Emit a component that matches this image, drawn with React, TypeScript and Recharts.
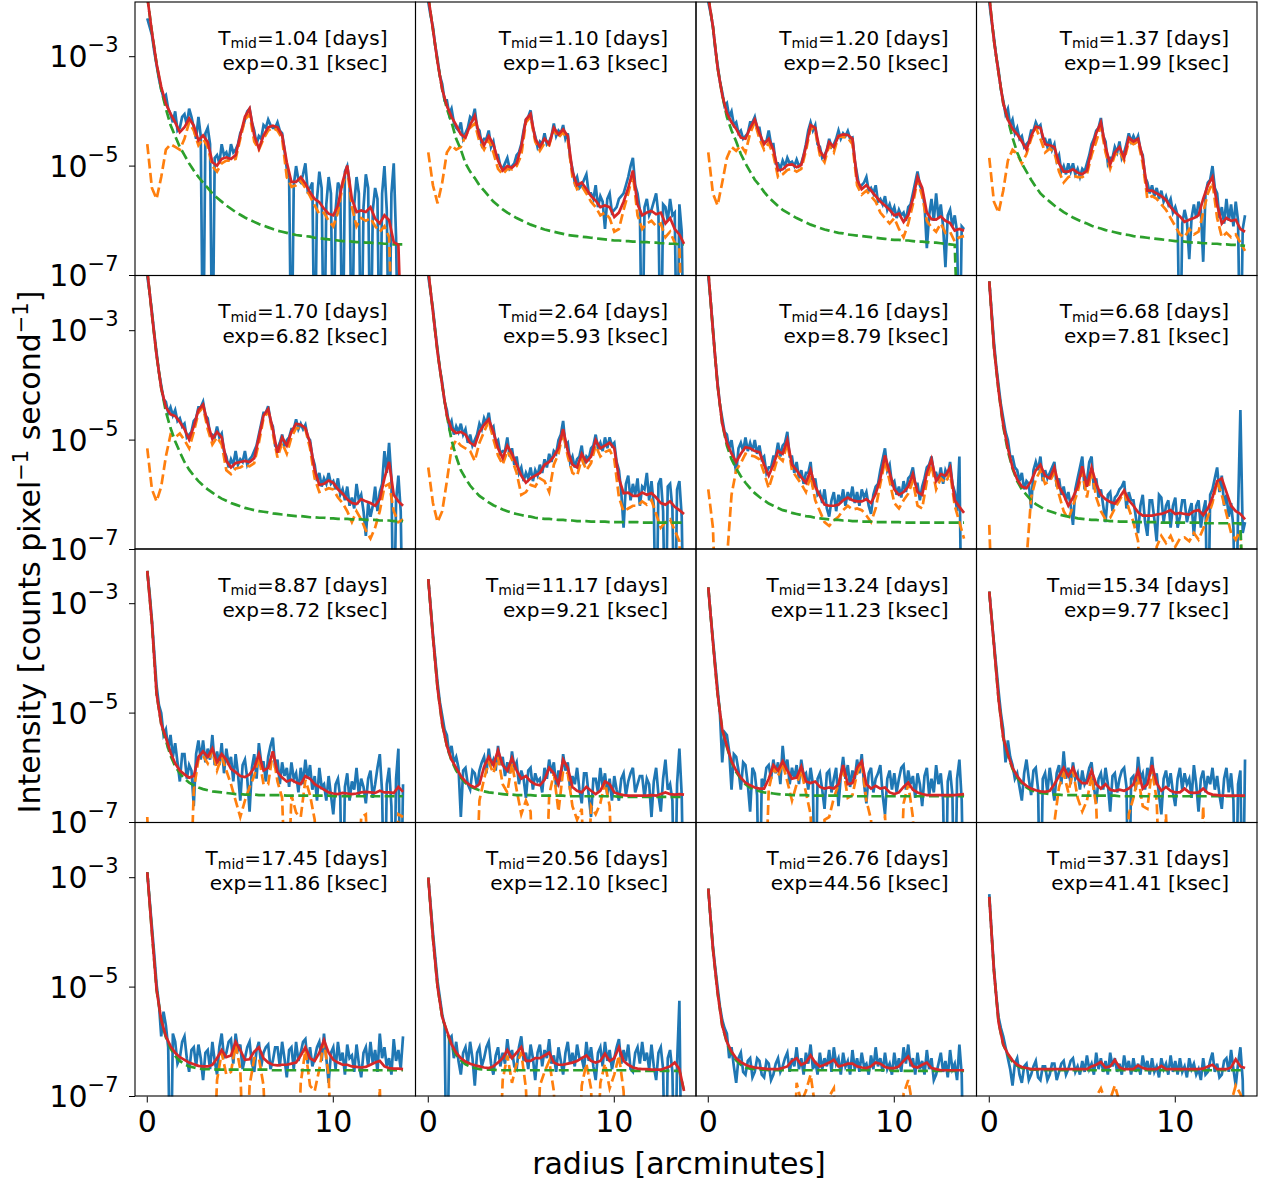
import React from 'react';
import { LineChart, Line, XAxis, YAxis } from 'recharts';

const FONT = '"DejaVu Sans", Verdana, sans-serif';

// model grid (orange / green / red)
const radius = [0, 0.25, 0.5, 0.75, 1, 1.25, 1.5, 1.75, 2, 2.25, 2.5, 2.75, 3, 3.25, 3.5, 3.75, 4, 4.25, 4.5, 4.75, 5, 5.25, 5.5, 5.75, 6, 6.25, 6.5, 6.75, 7, 7.25, 7.5, 7.75, 8, 8.25, 8.5, 8.75, 9, 9.25, 9.5, 9.75, 10, 10.25, 10.5, 10.75, 11, 11.25, 11.5, 11.75, 12, 12.25, 12.5, 12.75, 13, 13.25, 13.5, 13.75];
// data grid (blue)
const radiusFine = [
  0, 0.125, 0.25, 0.375, 0.5, 0.625, 0.75, 0.875, 1, 1.125, 1.25, 1.375, 1.5, 1.625, 1.75, 1.875,
  2, 2.125, 2.25, 2.375, 2.5, 2.625, 2.75, 2.875, 3, 3.125, 3.25, 3.375, 3.5, 3.625, 3.75, 3.875,
  4, 4.125, 4.25, 4.375, 4.5, 4.625, 4.75, 4.875, 5, 5.125, 5.25, 5.375, 5.5, 5.625, 5.75, 5.875,
  6, 6.125, 6.25, 6.375, 6.5, 6.625, 6.75, 6.875, 7, 7.125, 7.25, 7.375, 7.5, 7.625, 7.75, 7.875,
  8, 8.125, 8.25, 8.375, 8.5, 8.625, 8.75, 8.875, 9, 9.125, 9.25, 9.375, 9.5, 9.625, 9.75, 9.875,
  10, 10.125, 10.25, 10.375, 10.5, 10.625, 10.75, 10.875, 11, 11.125, 11.25, 11.375, 11.5, 11.625, 11.75, 11.875,
  12, 12.125, 12.25, 12.375, 12.5, 12.625, 12.75, 12.875, 13, 13.125, 13.25, 13.375, 13.5, 13.625, 13.75];

const xTicks = [0, 10];
const yTicks = [1e-7, 1e-5, 1e-3];

const tMid = ['1.04', '1.10', '1.20', '1.37', '1.70', '2.64', '4.16', '6.68', '8.87', '11.17', '13.24', '15.34', '17.45', '20.56', '26.76', '37.31'];
const expKs = ['0.31', '1.63', '2.50', '1.99', '6.82', '5.93', '8.79', '7.81', '8.72', '9.21', '11.23', '9.77', '11.86', '12.10', '44.56', '41.41'];

// all series values are log10(intensity); -9 = empty bin (off the axis)
// ---------- panel 1 ----------
const blue1 = [
  -2.3, -2.45, -2.6, -2.9, -3.15, -3.4, -3.6, -3.75, -3.7, -3.95, -4.05, -4.2, -4.0, -4.35, -4.3, -4.1,
  -4.05, -4.25, -3.95, -4.1, -4.3, -4.5, -4.1, -4.45, -9, -4.4, -4.3, -4.6, -9, -4.85, -4.8, -4.95,
  -4.6, -4.8, -4.75, -4.9, -4.6, -4.75, -4.7, -4.6, -4.4, -4.3, -4.15, -4.0, -3.95, -4.2, -4.35, -4.6,
  -4.45, -4.5, -4.25, -4.3, -4.15, -4.25, -4.3, -4.3, -4.2, -4.35, -4.4, -4.7, -5.05, -5.2, -9, -5.35,
  -5.0, -5.25, -5.3, -5.15, -4.95, -5.45, -5.4, -5.3, -9, -5.6, -5.1, -5.4, -9, -5.7, -5.2, -5.5,
  -9, -5.8, -5.3, -5.4, -9, -5.1, -5.0, -5.3, -9, -5.7, -5.2, -5.5, -9, -5.75, -5.15, -5.4,
  -9, -5.8, -5.4, -5.6, -9, -5.5, -5.0, -5.8, -9, -5.5, -4.95, -6.3, -9, -9, -9];
const orange1 = [
  -4.6, -5.4, -5.6, -5.2, -4.7, -4.6, -4.65, -4.7,
  -4.5, -4.2, -4.35, -4.62, -4.5, -4.65, -5.0, -5.1,
  -4.95, -4.9, -4.9, -4.87, -4.5, -4.15, -4.05, -4.55,
  -4.7, -4.5, -4.35, -4.3, -4.35, -4.5, -5.2, -5.38,
  -5.35, -5.27, -5.4, -5.55, -5.72, -5.88, -5.85, -6.0,
  -6.1, -5.85, -5.35, -5.05, -5.75, -6.1, -5.95, -6.0,
  -5.95, -6.1, -6.2, -6.1, -6.3, -9, -9, -9];
const green1 = [
  -1.9, -2.55, -3.13, -3.6, -3.95, -4.25, -4.45, -4.65,
  -4.8, -4.95, -5.08, -5.2, -5.3, -5.4, -5.5, -5.58,
  -5.65, -5.72, -5.78, -5.84, -5.89, -5.94, -5.98, -6.02,
  -6.06, -6.09, -6.12, -6.15, -6.18, -6.2, -6.22, -6.24,
  -6.26, -6.27, -6.28, -6.29, -6.31, -6.32, -6.33, -6.34,
  -6.35, -6.36, -6.37, -6.37, -6.38, -6.39, -6.39, -6.4,
  -6.4, -6.41, -6.41, -6.42, -6.42, -6.43, -6.43, -6.43];
const red1 = [
  -1.9, -2.55, -3.13, -3.55, -3.86, -4.04, -4.2, -4.38,
  -4.29, -4.13, -4.26, -4.53, -4.44, -4.56, -4.93, -4.99,
  -4.87, -4.84, -4.87, -4.8, -4.44, -4.1, -3.95, -4.44,
  -4.68, -4.44, -4.29, -4.26, -4.29, -4.44, -4.93, -5.29,
  -5.29, -5.2, -5.32, -5.48, -5.6, -5.66, -5.78, -5.87,
  -5.9, -5.72, -5.29, -4.99, -5.6, -5.84, -5.81, -5.84,
  -5.75, -5.96, -6.05, -5.9, -5.99, -6.39, -6.44, -9];

// ---------- panel 2 ----------
const blue2 = [
  -2.0, -2.25, -2.45, -2.8, -3.05, -3.35, -3.5, -3.8, -3.8, -4.05, -3.95, -4.2, -4.3, -4.35, -4.2, -4.5,
  -4.4, -4.3, -4.1, -4.15, -3.95, -4.3, -4.35, -4.6, -4.5, -4.5, -4.35, -4.65, -4.55, -4.8, -4.8, -5.0,
  -5.05, -4.95, -4.85, -5.05, -5.0, -4.95, -4.8, -4.75, -4.6, -4.35, -4.15, -4.1, -3.98, -4.3, -4.45, -4.65,
  -4.55, -4.6, -4.4, -4.6, -4.55, -4.45, -4.22, -4.45, -4.35, -4.4, -4.25, -4.5, -4.4, -4.85, -5.05, -5.3,
  -5.2, -5.4, -5.35, -5.25, -5.15, -5.5, -5.5, -5.6, -5.35, -5.75, -5.55, -5.65, -6.15, -5.6, -5.5, -5.85,
  -5.8, -5.75, -5.6, -5.55, -5.5, -5.35, -5.2, -5.0, -4.85, -5.35, -5.5, -5.8, -9, -5.75, -5.6, -5.9,
  -5.8, -5.65, -5.5, -5.9, -9, -5.7, -5.75, -6.0, -5.6, -5.9, -5.85, -9, -5.7, -6.2, -9];
const orange2 = [
  -4.75, -5.35, -5.68, -5.3, -4.75, -4.62, -4.7, -4.65,
  -4.45, -4.3, -4.22, -4.55, -4.7, -4.52, -4.75, -5.05,
  -5.15, -5.05, -5.06, -5.0, -4.8, -4.2, -4.1, -4.55,
  -4.72, -4.58, -4.62, -4.33, -4.48, -4.38, -4.52, -5.2,
  -5.42, -5.36, -5.5, -5.65, -5.75, -5.9, -5.85, -5.95,
  -6.2, -6.15, -5.8, -5.5, -5.15, -5.9, -6.15, -6.05,
  -6.0, -6.1, -6.05, -6.3, -6.2, -6.4, -6.5, -9];
const green2 = [
  -1.9, -2.5, -3.1, -3.6, -3.95, -4.2, -4.5, -4.7,
  -4.95, -5.1, -5.22, -5.35, -5.45, -5.55, -5.65, -5.72,
  -5.79, -5.85, -5.9, -5.95, -5.99, -6.03, -6.07, -6.1,
  -6.13, -6.16, -6.18, -6.2, -6.22, -6.24, -6.26, -6.27,
  -6.28, -6.29, -6.3, -6.31, -6.32, -6.33, -6.34, -6.35,
  -6.36, -6.36, -6.37, -6.37, -6.38, -6.38, -6.39, -6.39,
  -6.4, -6.4, -6.41, -6.41, -6.42, -6.42, -6.43, -6.43];
const red2 = [
  -1.9, -2.5, -3.1, -3.6, -3.9, -4.1, -4.25, -4.42,
  -4.48, -4.25, -4.08, -4.45, -4.62, -4.45, -4.6, -4.9,
  -5.08, -5.0, -5.03, -4.95, -4.65, -4.15, -4.05, -4.5,
  -4.65, -4.5, -4.6, -4.3, -4.42, -4.33, -4.45, -5.1,
  -5.35, -5.3, -5.42, -5.55, -5.63, -5.75, -5.72, -5.75,
  -5.93, -5.85, -5.65, -5.4, -5.08, -5.7, -5.9, -5.85,
  -5.82, -5.88, -5.85, -6.05, -5.95, -6.15, -6.25, -6.42];

// ---------- panel 3 ----------
const blue3 = [
  -2.0, -2.2, -2.45, -2.85, -3.15, -3.45, -3.65, -3.9, -3.85, -4.1, -4.0, -4.25, -4.2, -4.4, -4.35, -4.5,
  -4.45, -4.4, -4.2, -4.2, -4.1, -4.3, -4.3, -4.55, -4.55, -4.55, -4.35, -4.6, -4.6, -4.95, -4.95, -5.05,
  -4.9, -5.0, -4.85, -4.95, -4.92, -5.0, -4.88, -5.0, -4.95, -4.8, -4.6, -4.35, -4.2, -4.35, -4.25, -4.6,
  -4.65, -4.85, -4.8, -4.7, -4.5, -4.65, -4.6, -4.5, -4.35, -4.5, -4.4, -4.45, -4.36, -4.5, -4.48, -4.9,
  -5.15, -5.4, -5.35, -5.3, -5.2, -5.45, -5.4, -5.5, -5.35, -5.65, -5.6, -5.7, -5.55, -5.8, -5.7, -5.85,
  -5.75, -5.95, -5.8, -5.9, -5.85, -6.0, -5.75, -5.7, -5.5, -5.3, -5.1, -5.35, -5.45, -5.7, -6.5, -5.9,
  -5.6, -6.0, -5.5, -5.95, -5.7, -6.1, -6.85, -5.9, -5.8, -6.1, -5.9, -6.2, -9, -6.1, -6.15];
const orange3 = [
  -4.75, -5.5, -5.72, -5.3, -4.85, -4.65, -4.72, -4.62,
  -4.75, -4.4, -4.2, -4.5, -4.7, -4.58, -4.8, -5.2,
  -5.15, -5.07, -5.05, -5.1, -5.05, -4.72, -4.3, -4.35,
  -4.8, -4.93, -4.62, -4.75, -4.45, -4.47, -4.48, -4.6,
  -5.35, -5.52, -5.45, -5.55, -5.65, -5.85, -5.95, -6.05,
  -5.95, -6.15, -6.3, -6.05, -5.7, -5.25, -5.55, -6.0,
  -6.12, -6.2, -6.05, -6.22, -6.2, -6.38, -6.3, -6.28];
const green3 = [
  -1.9, -2.45, -3.2, -3.7, -4.1, -4.35, -4.55, -4.78,
  -4.95, -5.1, -5.25, -5.35, -5.47, -5.57, -5.65, -5.73,
  -5.8, -5.85, -5.9, -5.95, -5.99, -6.03, -6.07, -6.1,
  -6.13, -6.16, -6.18, -6.2, -6.22, -6.23, -6.25, -6.26,
  -6.27, -6.28, -6.29, -6.3, -6.31, -6.32, -6.33, -6.34,
  -6.35, -6.35, -6.36, -6.36, -6.37, -6.38, -6.38, -6.39,
  -6.4, -6.4, -6.41, -6.42, -6.43, -6.44, -9, -9];
const red3 = [
  -1.9, -2.45, -3.2, -3.7, -4.03, -4.2, -4.32, -4.48,
  -4.5, -4.3, -4.15, -4.4, -4.6, -4.5, -4.7, -5.08,
  -5.06, -4.98, -4.97, -5.02, -4.98, -4.65, -4.25, -4.3,
  -4.72, -4.85, -4.56, -4.65, -4.45, -4.42, -4.43, -4.5,
  -5.25, -5.42, -5.35, -5.45, -5.55, -5.65, -5.72, -5.8,
  -5.9, -5.87, -6.02, -5.9, -5.6, -5.2, -5.4, -5.85,
  -5.97, -5.98, -5.92, -6.0, -6.04, -6.18, -6.15, -6.18];

// ---------- panel 4 ----------
const blue4 = [
  -2.0, -2.35, -2.65, -3.0, -3.25, -3.6, -3.8, -4.05, -3.95, -4.25, -4.15, -4.4, -4.3, -4.5, -4.45, -4.65,
  -4.6, -4.55, -4.35, -4.35, -4.2, -4.3, -4.25, -4.5, -4.5, -4.65, -4.5, -4.7, -4.6, -4.9, -4.8, -5.1,
  -5.0, -5.15, -4.95, -5.1, -4.95, -5.15, -5.05, -5.2, -5.05, -5.1, -4.95, -4.8, -4.6, -4.5, -4.35, -4.3,
  -4.12, -4.45, -4.55, -4.95, -4.85, -4.85, -4.65, -4.75, -4.55, -4.85, -4.75, -4.6, -4.4, -4.55, -4.45, -4.55,
  -4.45, -4.7, -4.8, -5.2, -5.3, -5.5, -5.35, -5.55, -5.4, -5.6, -5.45, -5.65, -5.55, -5.7, -5.6, -5.85,
  -5.75, -5.9, -9, -6.05, -5.8, -6.0, -6.7, -5.95, -5.7, -5.95, -5.65, -5.8, -6.75, -5.5, -5.3, -5.25,
  -5.0, -5.4, -5.5, -5.95, -5.75, -6.05, -5.6, -6.0, -5.7, -6.1, -5.65, -6.0, -9, -6.15, -5.9];
const orange4 = [
  -4.85, -5.65, -5.85, -5.45, -4.9, -4.7, -4.78, -4.95,
  -4.78, -4.5, -4.3, -4.5, -4.75, -4.68, -4.75, -5.1,
  -5.3, -5.2, -5.17, -5.2, -5.2, -5.15, -4.8, -4.55,
  -4.27, -4.75, -5.05, -4.8, -4.73, -4.9, -4.55, -4.6,
  -4.55, -4.95, -5.6, -5.55, -5.6, -5.7, -5.8, -5.95,
  -6.1, -6.25, -6.3, -6.15, -6.25, -6.2, -5.85, -5.5,
  -5.3, -5.95, -6.3, -6.22, -6.3, -6.25, -6.4, -6.55];
const green4 = [
  -1.9, -2.7, -3.3, -3.85, -4.15, -4.48, -4.75, -4.95,
  -5.1, -5.25, -5.38, -5.5, -5.58, -5.65, -5.72, -5.78,
  -5.84, -5.89, -5.94, -5.98, -6.02, -6.05, -6.09, -6.12,
  -6.14, -6.17, -6.19, -6.21, -6.23, -6.25, -6.26, -6.28,
  -6.29, -6.3, -6.31, -6.32, -6.33, -6.34, -6.35, -6.36,
  -6.37, -6.37, -6.38, -6.39, -6.4, -6.4, -6.41, -6.41,
  -6.42, -6.42, -6.43, -6.43, -6.44, -6.44, -6.45, -6.46];
const red4 = [
  -1.9, -2.7, -3.3, -3.85, -4.15, -4.32, -4.42, -4.55,
  -4.7, -4.45, -4.28, -4.3, -4.6, -4.62, -4.65, -4.95,
  -5.1, -5.1, -5.06, -5.12, -5.15, -5.08, -4.7, -4.4,
  -4.2, -4.65, -4.97, -4.75, -4.65, -4.85, -4.48, -4.55,
  -4.5, -4.85, -5.45, -5.45, -5.5, -5.55, -5.62, -5.75,
  -5.85, -5.92, -6.02, -5.98, -5.95, -5.9, -5.6, -5.35,
  -5.2, -5.7, -6.05, -5.95, -6.0, -5.98, -6.15, -6.2];

// ---------- panel 5 ----------
const blue5 = [
  -2.0, -2.3, -2.65, -3.05, -3.4, -3.75, -4.0, -4.25, -4.3, -4.5, -4.4, -4.55, -4.45, -4.65, -4.6, -4.75,
  -4.7, -4.95, -4.9, -4.85, -4.65, -4.6, -4.4, -4.4, -4.3, -4.55, -4.6, -4.9, -4.9, -4.95, -4.75, -4.95,
  -4.88, -5.2, -5.3, -5.5, -5.35, -5.45, -5.2, -5.45, -5.35, -5.4, -5.2, -5.45, -5.35, -5.3, -5.2, -5.1,
  -4.9, -4.7, -4.5, -4.5, -4.38, -4.65, -4.75, -5.1, -5.15, -5.05, -4.9, -5.1, -5.0, -4.95, -4.8, -4.8,
  -4.62, -4.8, -4.7, -4.8, -4.72, -4.95, -5.0, -5.3, -5.45, -5.75, -5.6, -5.85, -5.7, -5.8, -5.6, -5.8,
  -5.75, -5.9, -5.7, -6.0, -5.9, -6.1, -5.85, -6.2, -6.05, -6.25, -5.8, -6.1, -6.0, -6.3, -6.75, -6.15,
  -6.4, -6.2, -5.85, -6.3, -5.95, -5.8, -5.2, -5.6, -5.05, -5.7, -9, -6.1, -5.65, -6.3, -9];
const orange5 = [
  -5.15, -5.9, -6.12, -5.85, -5.3, -4.9, -4.95, -4.88,
  -5.0, -5.15, -4.85, -4.5, -4.4, -4.8, -5.08, -4.95,
  -5.08, -5.55, -5.62, -5.52, -5.5, -5.45, -5.48, -5.42,
  -5.05, -4.6, -4.47, -4.88, -5.32, -5.05, -5.25, -4.95,
  -4.78, -4.78, -4.8, -5.15, -5.7, -5.95, -5.92, -5.88,
  -5.9, -6.05, -6.15, -6.3, -6.5, -6.3, -6.45, -6.65,
  -6.8, -6.6, -6.3, -5.85, -5.8, -6.3, -6.5, -6.45];
const green5 = [
  -1.9, -2.7, -3.45, -4.05, -4.48, -4.78, -5.02, -5.22,
  -5.4, -5.54, -5.65, -5.75, -5.83, -5.9, -5.96, -6.02,
  -6.07, -6.11, -6.15, -6.18, -6.21, -6.24, -6.26, -6.28,
  -6.3, -6.31, -6.32, -6.34, -6.35, -6.36, -6.37, -6.38,
  -6.39, -6.39, -6.4, -6.41, -6.41, -6.42, -6.42, -6.43,
  -6.43, -6.44, -6.44, -6.44, -6.45, -6.45, -6.45, -6.46,
  -6.46, -6.46, -6.47, -6.47, -6.47, -6.48, -6.48, -6.48];
const red5 = [
  -1.9, -2.7, -3.45, -4.05, -4.4, -4.53, -4.56, -4.67,
  -4.8, -4.99, -4.75, -4.45, -4.35, -4.7, -4.98, -4.85,
  -4.95, -5.38, -5.5, -5.42, -5.4, -5.38, -5.4, -5.33,
  -4.95, -4.55, -4.43, -4.8, -5.23, -4.95, -5.1, -4.85,
  -4.7, -4.72, -4.78, -5.05, -5.55, -5.82, -5.8, -5.74,
  -5.78, -5.9, -5.98, -6.08, -6.15, -6.17, -6.08, -6.12,
  -6.15, -6.2, -6.08, -5.7, -5.4, -6.0, -6.12, -6.2];

// ---------- panel 6 ----------
const blue6 = [
  -2.0, -2.3, -2.6, -3.0, -3.35, -3.7, -3.95, -4.3, -4.45, -4.75, -4.65, -4.9, -4.75, -4.85, -4.7, -4.9,
  -4.8, -5.05, -4.9, -5.1, -5.0, -4.9, -4.7, -4.8, -4.6, -4.7, -4.5, -4.8, -4.75, -5.05, -5.0, -5.25,
  -5.2, -5.2, -4.95, -5.3, -5.15, -5.45, -5.3, -5.6, -5.5, -5.75, -5.6, -5.7, -5.5, -5.75, -5.55, -5.65,
  -5.45, -5.6, -5.35, -5.5, -5.25, -5.4, -5.2, -5.25, -5.0, -4.9, -4.65, -5.1, -5.05, -5.4, -5.3, -5.5,
  -5.35, -5.3, -5.1, -5.45, -5.3, -5.35, -5.15, -5.1, -4.9, -5.15, -5.05, -5.2, -4.95, -5.15, -4.95, -5.1,
  -5.05, -5.4, -5.55, -5.95, -6.6, -5.8, -5.65, -6.1, -5.8, -6.0, -5.7, -6.2, -5.85, -5.9, -5.6, -6.1,
  -5.75, -6.2, -9, -5.8, -5.7, -6.3, -9, -5.85, -5.8, -6.25, -9, -5.9, -5.75, -6.4, -9];
const orange6 = [
  -5.5, -6.15, -6.5, -6.3, -5.75, -5.15, -5.0, -5.1,
  -5.15, -5.2, -5.38, -5.05, -4.85, -4.65, -4.98, -5.28,
  -5.45, -5.2, -5.35, -5.6, -6.0, -5.95, -5.82, -5.85,
  -5.7, -5.75, -5.95, -5.45, -5.25, -4.85, -5.3, -5.6,
  -5.65, -5.35, -5.55, -5.42, -5.1, -5.3, -5.22, -5.18,
  -5.35, -6.05, -6.3, -6.25, -6.2, -6.2, -6.12, -6.18,
  -6.1, -6.35, -6.6, -6.5, -6.45, -6.65, -6.85, -9];
const green6 = [
  -1.9, -2.65, -3.4, -4.0, -4.55, -5.0, -5.3, -5.55,
  -5.7, -5.83, -5.93, -6.02, -6.08, -6.14, -6.19, -6.23,
  -6.27, -6.3, -6.33, -6.35, -6.37, -6.39, -6.4, -6.42,
  -6.43, -6.44, -6.44, -6.45, -6.46, -6.46, -6.47, -6.47,
  -6.48, -6.48, -6.48, -6.49, -6.49, -6.49, -6.49, -6.5,
  -6.5, -6.5, -6.5, -6.5, -6.5, -6.5, -6.51, -6.51,
  -6.51, -6.51, -6.51, -6.51, -6.51, -6.51, -6.51, -6.51];
const red6 = [
  -1.9, -2.65, -3.4, -4.0, -4.55, -4.8, -4.87, -4.85,
  -4.9, -5.05, -5.1, -4.85, -4.72, -4.62, -4.85, -5.15,
  -5.33, -5.1, -5.25, -5.45, -5.65, -5.78, -5.7, -5.65,
  -5.6, -5.45, -5.4, -5.3, -5.15, -4.8, -5.2, -5.45,
  -5.5, -5.25, -5.4, -5.3, -5.0, -5.15, -5.1, -5.05,
  -5.15, -5.7, -5.97, -5.96, -6.02, -6.02, -5.96, -6.0,
  -5.97, -6.05, -6.15, -6.18, -6.12, -6.22, -6.28, -6.35];

// ---------- panel 7 ----------
const blue7 = [
  -2.0, -2.45, -2.95, -3.5, -3.95, -4.35, -4.6, -4.85, -4.9, -5.15, -5.0, -5.3, -5.6, -5.15, -5.05, -5.2,
  -4.95, -5.2, -5.05, -5.2, -5.0, -5.25, -5.1, -5.35, -5.3, -5.6, -5.5, -5.5, -5.3, -5.3, -5.05, -5.3,
  -5.1, -5.05, -4.85, -5.3, -5.3, -5.6, -5.4, -5.7, -5.55, -5.8, -5.6, -5.6, -5.4, -5.85, -5.7, -6.0,
  -5.95, -6.15, -5.9, -6.25, -6.4, -6.1, -5.95, -6.3, -6.0, -6.15, -5.9, -6.2, -5.95, -6.1, -5.85, -6.15,
  -5.95, -6.2, -5.9, -6.05, -5.95, -6.2, -6.35, -6.0, -5.85, -5.8, -5.55, -5.35, -5.15, -5.55, -5.45, -5.8,
  -5.75, -6.0, -5.85, -6.05, -5.75, -5.95, -5.7, -5.65, -5.5, -5.8, -5.8, -6.1, -5.85, -5.7, -5.5, -5.45,
  -5.3, -5.6, -5.6, -5.75, -5.5, -5.8, -5.55, -5.65, -5.4, -5.8, -5.95, -6.3, -5.3, -9, -9];
const orange7 = [
  -5.9, -6.6, -9, -9, -7.2, -6.0, -5.55, -5.42,
  -5.25, -5.28, -5.3, -5.35, -5.6, -5.88, -5.6, -5.3,
  -5.38, -5.05, -5.55, -5.68, -5.8, -5.95, -5.65, -6.1,
  -6.3, -6.5, -6.57, -6.47, -6.4, -6.28, -6.2, -6.27,
  -6.25, -6.28, -6.38, -6.5, -6.25, -5.8, -5.38, -5.75,
  -6.15, -6.25, -6.1, -5.98, -5.75, -6.2, -6.25, -5.75,
  -5.45, -5.9, -5.7, -5.78, -5.6, -6.2, -6.5, -6.8];
const green7 = [
  -1.9, -3.0, -4.0, -4.7, -5.1, -5.35, -5.52, -5.66,
  -5.78, -5.88, -5.97, -6.04, -6.1, -6.16, -6.2, -6.24,
  -6.28, -6.3, -6.33, -6.35, -6.37, -6.39, -6.4, -6.42,
  -6.43, -6.44, -6.45, -6.46, -6.46, -6.47, -6.47, -6.48,
  -6.48, -6.49, -6.49, -6.49, -6.5, -6.5, -6.5, -6.5,
  -6.5, -6.5, -6.51, -6.51, -6.51, -6.51, -6.51, -6.51,
  -6.51, -6.51, -6.51, -6.51, -6.51, -6.51, -6.51, -6.51];
const red7 = [
  -1.9, -3.0, -4.0, -4.7, -5.05, -5.25, -5.4, -5.25,
  -5.13, -5.15, -5.2, -5.22, -5.45, -5.65, -5.45, -5.2,
  -5.25, -5.0, -5.45, -5.55, -5.68, -5.78, -5.55, -5.85,
  -6.02, -6.18, -6.2, -6.2, -6.18, -6.1, -6.05, -6.1,
  -6.12, -6.12, -6.08, -6.15, -5.98, -5.7, -5.28, -5.6,
  -5.9, -6.0, -5.95, -5.85, -5.62, -5.95, -6.0, -5.6,
  -5.35, -5.75, -5.62, -5.65, -5.5, -6.1, -6.22, -6.33];

// ---------- panel 8 ----------
const blue8 = [
  -2.1, -2.65, -3.2, -3.65, -4.0, -4.35, -4.6, -4.85, -5.0, -5.3, -5.3, -5.5, -5.55, -5.75, -5.6, -5.9,
  -5.75, -5.8, -6.25, -5.55, -5.4, -5.55, -5.3, -5.75, -5.55, -5.7, -5.6, -5.5, -5.4, -5.85, -5.7, -6.0,
  -5.85, -6.1, -5.95, -6.2, -6.55, -5.9, -5.7, -5.5, -5.3, -5.9, -5.75, -5.4, -5.3, -5.9, -5.7, -6.05,
  -5.9, -6.2, -6.5, -6.0, -5.95, -6.3, -6.05, -6.0, -5.9, -5.85, -5.75, -6.25, -5.95, -6.1, -6.1, -6.4,
  -6.7, -6.2, -6.0, -6.5, -6.75, -6.1, -6.1, -6.45, -6.85, -6.0, -6.05, -6.5, -6.2, -6.1, -6.6, -6.2,
  -6.05, -6.6, -6.4, -6.1, -6.1, -6.5, -6.3, -6.15, -6.75, -6.2, -6.1, -6.6, -6.3, -6.1, -9, -6.0,
  -5.9, -5.7, -5.5, -5.95, -5.65, -6.2, -6.0, -6.4, -6.15, -6.6, -9, -6.3, -4.45, -6.7, -6.5];
const orange8 = [
  -6.55, -9, -9, -9, -9, -9, -9, -9,
  -7.2, -6.05, -5.72, -5.55, -5.8, -5.75, -5.6, -6.0,
  -6.3, -6.45, -6.2, -5.95, -5.58, -6.05, -5.55, -6.05,
  -6.3, -6.45, -6.42, -6.25, -6.1, -5.95, -6.25, -6.5,
  -6.85, -9, -9, -9, -6.95, -6.75, -6.88, -6.75,
  -6.95, -6.8, -6.78, -6.85, -6.7, -6.82, -6.62, -6.4,
  -6.15, -5.75, -6.0, -6.35, -6.7, -6.82, -6.65, -9];
const green8 = [
  -2.1, -3.3, -4.1, -4.75, -5.2, -5.52, -5.75, -5.9,
  -6.0, -6.1, -6.17, -6.22, -6.27, -6.3, -6.33, -6.36,
  -6.38, -6.4, -6.41, -6.43, -6.44, -6.45, -6.46, -6.46,
  -6.47, -6.47, -6.48, -6.48, -6.49, -6.49, -6.49, -6.5,
  -6.5, -6.5, -6.5, -6.5, -6.5, -6.51, -6.51, -6.51,
  -6.51, -6.51, -6.51, -6.51, -6.51, -6.51, -6.52, -6.52,
  -6.52, -6.52, -6.52, -6.52, -6.52, -6.52, -6.52, -9];
const red8 = [
  -2.1, -3.3, -4.1, -4.72, -5.15, -5.5, -5.72, -5.85,
  -5.88, -5.75, -5.55, -5.45, -5.65, -5.7, -5.5, -5.85,
  -6.0, -6.2, -6.05, -5.85, -5.48, -5.85, -5.5, -5.8,
  -6.0, -6.08, -6.13, -6.16, -6.05, -5.92, -6.1, -6.2,
  -6.32, -6.38, -6.38, -6.38, -6.36, -6.35, -6.32, -6.28,
  -6.35, -6.33, -6.35, -6.36, -6.3, -6.28, -6.37, -6.25,
  -6.05, -5.75, -5.7, -5.95, -6.2, -6.3, -6.35, -6.45];

// ---------- panel 9 ----------
const blue9 = [
  -2.4, -2.8, -3.3, -3.9, -4.5, -4.85, -5.0, -5.4, -5.3, -5.65, -5.4, -5.8, -5.55, -5.9, -6.25, -5.75,
  -5.75, -6.2, -5.95, -6.05, -6.7, -5.75, -5.5, -5.85, -5.5, -5.9, -5.65, -5.85, -5.4, -5.95, -5.7, -5.95,
  -5.55, -6.1, -5.65, -5.95, -5.8, -6.25, -5.75, -6.1, -6.6, -5.95, -5.85, -6.2, -6.8, -6.0, -5.75, -6.2,
  -5.55, -5.9, -5.9, -6.25, -5.8, -5.6, -5.45, -6.0, -5.85, -6.3, -5.9, -6.15, -6.0, -6.35, -5.9, -6.2,
  -6.1, -6.45, -6.0, -6.3, -5.85, -6.2, -5.95, -6.4, -6.15, -6.6, -6.0, -6.35, -6.3, -6.6, -6.15, -6.5,
  -6.85, -6.3, -6.2, -6.55, -9, -6.35, -6.1, -6.6, -6.25, -6.4, -6.0, -6.5, -6.2, -6.35, -6.65, -6.2,
  -6.05, -6.55, -6.3, -6.0, -5.75, -6.45, -9, -6.3, -6.0, -6.7, -9, -6.2, -5.65, -9, -6.3];
const orange9 = [
  -6.9, -9, -9, -9, -9, -9, -9, -9,
  -9, -9, -6.4, -5.85, -5.78, -5.92, -5.68, -6.05,
  -5.8, -6.05, -6.3, -6.6, -6.9, -6.6, -6.35, -6.15,
  -5.8, -6.3, -6.3, -5.72, -6.25, -6.55, -9, -6.5,
  -6.82, -6.9, -6.22, -6.5, -6.95, -9, -9, -9,
  -9, -9, -9, -9, -9, -9, -6.9, -6.85,
  -9, -9, -9, -9, -9, -9, -6.85, -6.9];
const green9 = [
  -2.4, -3.35, -4.65, -5.2, -5.5, -5.78, -5.97, -6.1,
  -6.2, -6.27, -6.32, -6.36, -6.39, -6.41, -6.43, -6.44,
  -6.45, -6.46, -6.47, -6.48, -6.48, -6.49, -6.49, -6.49,
  -6.5, -6.5, -6.5, -6.5, -6.5, -6.5, -6.51, -6.51,
  -6.51, -6.51, -6.51, -6.51, -6.51, -6.51, -6.51, -6.51,
  -6.52, -6.52, -6.52, -6.52, -6.52, -6.52, -6.52, -6.52,
  -6.52, -6.52, -6.52, -6.52, -6.52, -6.52, -6.52, -6.52];
const red9 = [
  -2.4, -3.35, -4.65, -5.2, -5.45, -5.72, -5.92, -6.05,
  -6.12, -6.18, -6.15, -5.8, -5.7, -5.8, -5.65, -5.9,
  -5.75, -5.85, -6.02, -6.08, -6.15, -6.17, -6.12, -6.0,
  -5.75, -6.05, -6.0, -5.7, -6.08, -6.18, -6.25, -6.22,
  -6.27, -6.3, -6.15, -6.2, -6.3, -6.35, -6.4, -6.45,
  -6.47, -6.48, -6.46, -6.47, -6.48, -6.47, -6.45, -6.44,
  -6.45, -6.46, -6.42, -6.45, -6.45, -6.46, -6.35, -6.44];

// ---------- panel 10 ----------
const blue10 = [
  -2.55, -3.05, -3.55, -4.0, -4.45, -4.8, -5.05, -5.3, -5.4, -5.75, -5.6, -5.9, -5.8, -6.0, -6.9, -6.05,
  -6.0, -6.3, -6.4, -6.05, -6.1, -6.35, -6.05, -5.9, -5.8, -6.1, -5.65, -5.95, -5.85, -6.05, -5.6, -5.95,
  -5.8, -6.15, -5.9, -6.1, -5.7, -6.0, -5.9, -6.3, -6.05, -6.2, -6.55, -6.05, -6.0, -6.4, -6.1, -6.25,
  -6.2, -6.45, -6.0, -6.2, -5.85, -6.1, -5.9, -6.35, -6.05, -6.25, -5.75, -6.05, -5.9, -6.4, -6.15, -6.3,
  -6.0, -6.4, -6.65, -6.1, -6.1, -6.5, -6.9, -6.2, -6.2, -6.45, -6.0, -6.35, -6.1, -6.5, -6.2, -6.6,
  -6.15, -6.4, -6.6, -6.2, -6.1, -6.5, -6.25, -6.1, -6.0, -6.45, -6.3, -6.15, -6.15, -6.55, -6.2, -6.3,
  -6.9, -6.25, -6.0, -6.5, -6.8, -6.2, -5.85, -6.4, -6.3, -6.6, -9, -6.3, -5.65, -6.5, -9];
const orange10 = [
  -9, -9, -9, -9, -9, -9, -9, -9,
  -9, -9, -9, -6.6, -6.2, -5.9, -6.1, -5.8,
  -6.3, -6.45, -5.92, -6.4, -6.85, -6.6, -6.8, -9,
  -9, -9, -6.5, -6.1, -6.8, -6.05, -6.1, -6.7,
  -6.95, -6.75, -9, -6.7, -6.85, -6.65, -6.25, -6.7,
  -9, -9, -9, -9, -9, -9, -9, -9,
  -9, -9, -9, -9, -9, -9, -9, -9];
const green10 = [
  -2.55, -3.6, -4.55, -5.2, -5.6, -5.87, -6.05, -6.18,
  -6.28, -6.34, -6.38, -6.41, -6.43, -6.45, -6.46, -6.47,
  -6.48, -6.49, -6.49, -6.5, -6.5, -6.5, -6.5, -6.51,
  -6.51, -6.51, -6.51, -6.51, -6.51, -6.51, -6.52, -6.52,
  -6.52, -6.52, -6.52, -6.52, -6.52, -6.52, -6.52, -6.52,
  -6.52, -6.53, -6.53, -6.53, -6.53, -6.53, -6.53, -6.53,
  -6.53, -6.53, -6.53, -6.53, -6.53, -6.53, -6.53, -6.53];
const red10 = [
  -2.55, -3.6, -4.55, -5.2, -5.6, -5.85, -6.0, -6.15,
  -6.25, -6.32, -6.36, -6.3, -5.98, -5.8, -5.95, -5.68,
  -5.95, -6.05, -5.82, -6.05, -6.2, -6.15, -6.25, -6.3,
  -6.32, -6.22, -6.0, -6.1, -6.3, -5.85, -6.0, -6.35,
  -6.42, -6.45, -6.35, -6.42, -6.48, -6.42, -6.25, -6.3,
  -6.45, -6.48, -6.5, -6.51, -6.51, -6.51, -6.51, -6.51,
  -6.5, -6.51, -6.48, -6.45, -6.48, -6.49, -6.48, -6.49];

// ---------- panel 11 ----------
const blue11 = [
  -2.7, -3.2, -3.65, -4.1, -4.55, -5.0, -5.9, -5.35, -5.4, -5.7, -6.4, -5.75, -5.8, -6.05, -6.4, -5.9,
  -5.95, -6.3, -6.8, -6.0, -6.1, -6.5, -9, -6.2, -6.3, -6.0, -5.95, -6.2, -5.85, -6.1, -5.9, -6.3,
  -5.6, -6.05, -5.85, -6.3, -6.0, -6.2, -5.95, -6.3, -5.85, -6.15, -6.1, -6.4, -6.0, -6.3, -9, -6.2,
  -6.1, -6.4, -6.75, -6.1, -6.05, -6.45, -6.2, -6.0, -6.7, -6.15, -5.8, -6.2, -5.95, -6.35, -6.05, -6.2,
  -5.85, -6.1, -5.75, -6.3, -6.65, -6.1, -6.0, -6.45, -6.2, -6.1, -5.95, -6.5, -6.85, -6.2, -6.05, -6.4,
  -6.1, -6.45, -6.2, -6.0, -5.95, -6.4, -6.05, -6.3, -6.15, -6.55, -6.1, -6.3, -6.7, -6.15, -6.0, -6.5,
  -6.2, -6.45, -5.95, -6.3, -6.1, -6.6, -9, -6.25, -6.05, -6.5, -9, -6.2, -5.85, -6.6, -9];
const orange11 = [
  -9, -9, -9, -9, -9, -9, -9, -9,
  -9, -9, -9, -9, -9, -6.4, -6.0, -6.15,
  -5.92, -6.25, -6.6, -6.3, -6.05, -6.45, -6.85, -9,
  -9, -6.95, -6.9, -6.55, -6.3, -6.0, -6.55, -6.5,
  -6.1, -5.9, -6.6, -6.95, -9, -9, -6.85, -9,
  -9, -9, -6.65, -6.3, -6.9, -9, -9, -9,
  -9, -9, -9, -9, -9, -9, -9, -9];
const green11 = [
  -2.7, -3.7, -4.65, -5.3, -5.62, -5.9, -6.08, -6.2,
  -6.3, -6.36, -6.4, -6.43, -6.45, -6.46, -6.47, -6.48,
  -6.49, -6.49, -6.5, -6.5, -6.5, -6.5, -6.51, -6.51,
  -6.51, -6.51, -6.51, -6.51, -6.51, -6.52, -6.52, -6.52,
  -6.52, -6.52, -6.52, -6.52, -6.52, -6.52, -6.52, -6.52,
  -6.52, -6.52, -6.52, -6.52, -6.52, -6.52, -6.52, -6.52,
  -6.52, -6.52, -6.52, -6.52, -6.52, -6.52, -6.52, -6.52];
const red11 = [
  -2.7, -3.7, -4.65, -5.3, -5.6, -5.88, -6.05, -6.18,
  -6.27, -6.32, -6.36, -6.38, -6.38, -6.2, -5.95, -6.05,
  -5.88, -6.05, -6.2, -6.18, -5.98, -6.25, -6.28, -6.25,
  -6.35, -6.38, -6.36, -6.38, -6.3, -5.95, -6.3, -6.28,
  -6.0, -5.88, -6.3, -6.38, -6.33, -6.38, -6.36, -6.45,
  -6.48, -6.45, -6.35, -6.27, -6.4, -6.45, -6.48, -6.5,
  -6.5, -6.5, -6.5, -6.5, -6.5, -6.5, -6.49, -6.48];

// ---------- panel 12 ----------
const blue12 = [
  -2.78, -3.25, -3.7, -4.15, -4.6, -5.0, -5.3, -5.9, -5.5, -5.8, -5.95, -6.2, -6.1, -6.35, -6.6, -6.1,
  -5.85, -6.2, -6.5, -6.05, -6.0, -6.4, -9, -6.2, -6.1, -6.45, -6.0, -6.3, -6.6, -6.1, -5.95, -6.3,
  -5.7, -6.2, -6.0, -6.3, -5.9, -6.2, -6.1, -6.4, -6.05, -6.3, -6.2, -6.0, -5.9, -6.35, -6.65, -6.2,
  -6.1, -6.4, -6.0, -6.3, -6.8, -6.15, -6.1, -6.45, -6.2, -6.05, -6.0, -6.35, -9, -6.2, -6.15, -6.4,
  -5.8, -6.2, -6.1, -6.4, -6.0, -6.15, -5.8, -6.3, -6.1, -6.5, -6.85, -6.2, -6.05, -6.35, -6.1, -6.45,
  -6.7, -6.2, -6.0, -6.4, -6.1, -6.3, -6.2, -6.55, -5.95, -6.3, -6.8, -6.2, -6.05, -6.45, -6.15, -6.3,
  -6.0, -6.4, -6.15, -6.5, -6.75, -6.2, -6.0, -6.45, -6.1, -6.6, -9, -6.3, -6.05, -9, -5.85];
const orange12 = [
  -9, -9, -9, -9, -9, -9, -9, -9,
  -9, -9, -9, -9, -9, -9, -7.0, -6.35,
  -6.1, -6.45, -6.05, -6.55, -6.8, -6.6, -6.15, -6.7,
  -9, -9, -9, -9, -9, -9, -6.85, -6.55,
  -6.15, -6.7, -6.75, -6.0, -6.6, -9, -6.85, -9,
  -9, -9, -9, -9, -9, -9, -6.7, -9,
  -9, -9, -9, -9, -9, -9, -9, -9];
const green12 = [
  -2.78, -3.75, -4.75, -5.45, -5.77, -6.02, -6.18, -6.29,
  -6.36, -6.41, -6.44, -6.46, -6.47, -6.48, -6.49, -6.49,
  -6.5, -6.5, -6.5, -6.5, -6.51, -6.51, -6.51, -6.51,
  -6.51, -6.51, -6.51, -6.51, -6.52, -6.52, -6.52, -6.52,
  -6.52, -6.52, -6.52, -6.52, -6.52, -6.52, -6.52, -6.52,
  -6.52, -6.52, -6.52, -6.52, -6.52, -6.52, -6.52, -6.52,
  -6.52, -6.52, -6.52, -6.52, -6.52, -6.52, -6.52, -6.52];
const red12 = [
  -2.78, -3.75, -4.75, -5.45, -5.75, -6.0, -6.15, -6.26,
  -6.33, -6.38, -6.41, -6.43, -6.44, -6.42, -6.3, -6.15,
  -6.0, -6.15, -6.0, -6.2, -6.28, -6.28, -6.05, -6.3,
  -6.38, -6.3, -6.4, -6.42, -6.4, -6.42, -6.38, -6.3,
  -6.05, -6.38, -6.3, -5.95, -6.28, -6.42, -6.35, -6.42,
  -6.45, -6.45, -6.38, -6.45, -6.46, -6.45, -6.38, -6.46,
  -6.49, -6.5, -6.51, -6.51, -6.51, -6.51, -6.51, -6.51];

// ---------- panel 13 ----------
const blue13 = [
  -2.9, -3.4, -3.9, -4.4, -4.95, -5.3, -5.9, -5.45, -5.7, -6.1, -9, -5.85, -6.0, -6.4, -6.3, -6.0,
  -5.9, -6.3, -6.55, -6.15, -6.1, -6.45, -6.05, -6.3, -6.7, -6.2, -6.15, -6.5, -6.0, -6.35, -6.6, -6.1,
  -5.85, -6.3, -6.2, -6.0, -5.95, -6.4, -5.85, -6.15, -6.05, -6.5, -6.3, -6.1, -6.0, -6.4, -6.55, -6.15,
  -6.0, -6.45, -6.2, -6.1, -6.05, -6.5, -6.35, -6.1, -6.1, -6.45, -6.0, -6.3, -6.65, -6.15, -6.1, -6.5,
  -6.0, -6.35, -6.2, -6.0, -5.95, -6.4, -6.1, -6.45, -6.3, -6.1, -6.0, -6.35, -5.85, -6.3, -6.75, -6.2,
  -6.1, -6.5, -6.0, -6.35, -6.2, -6.6, -6.05, -6.3, -6.25, -6.55, -6.05, -6.4, -6.65, -6.2, -6.1, -6.45,
  -6.0, -6.4, -6.15, -6.55, -5.85, -6.3, -6.1, -6.45, -6.3, -6.6, -5.95, -6.35, -6.15, -6.5, -5.9];
const orange13 = [
  -9, -9, -9, -9, -9, -9, -9, -9,
  -9, -9, -9, -9, -9, -9, -9, -6.7,
  -6.2, -6.6, -6.55, -6.05, -6.5, -9, -6.8, -6.3,
  -6.3, -6.8, -9, -9, -9, -9, -9, -9,
  -9, -6.75, -6.15, -6.8, -6.9, -6.5, -6.0, -6.6,
  -9, -9, -9, -9, -9, -9, -9, -9,
  -9, -9, -6.85, -9, -9, -9, -9, -9];
const green13 = [
  -2.9, -4.0, -5.05, -5.6, -5.92, -6.12, -6.26, -6.35,
  -6.41, -6.45, -6.47, -6.49, -6.5, -6.5, -6.5, -6.51,
  -6.51, -6.51, -6.51, -6.51, -6.51, -6.51, -6.51, -6.51,
  -6.51, -6.51, -6.51, -6.52, -6.52, -6.52, -6.52, -6.52,
  -6.52, -6.52, -6.52, -6.52, -6.52, -6.52, -6.52, -6.52,
  -6.52, -6.52, -6.52, -6.52, -6.52, -6.52, -6.52, -6.52,
  -6.52, -6.52, -6.52, -6.52, -6.52, -6.52, -6.52, -6.52];
const red13 = [
  -2.9, -4.0, -5.05, -5.6, -5.9, -6.08, -6.2, -6.28,
  -6.33, -6.38, -6.41, -6.44, -6.45, -6.45, -6.42, -6.3,
  -6.15, -6.28, -6.25, -6.0, -6.15, -6.33, -6.32, -6.18,
  -6.1, -6.3, -6.38, -6.42, -6.43, -6.42, -6.42, -6.4,
  -6.38, -6.25, -6.1, -6.3, -6.35, -6.2, -5.97, -6.2,
  -6.33, -6.38, -6.42, -6.42, -6.45, -6.46, -6.47, -6.46,
  -6.42, -6.38, -6.35, -6.45, -6.48, -6.49, -6.49, -6.5];

// ---------- panel 14 ----------
const blue14 = [
  -3.0, -3.5, -4.0, -4.45, -4.9, -5.2, -5.5, -5.7, -9, -5.95, -5.9, -6.3, -6.0, -6.35, -6.6, -6.2,
  -6.1, -6.4, -6.0, -6.3, -6.8, -6.2, -6.1, -6.45, -6.3, -6.1, -6.0, -6.4, -6.6, -6.25, -6.1, -6.45,
  -6.2, -6.4, -5.95, -6.3, -6.15, -6.45, -6.5, -6.1, -5.9, -6.35, -6.2, -6.5, -6.05, -6.3, -6.7, -6.2,
  -6.05, -6.45, -6.15, -6.3, -5.95, -6.4, -6.25, -6.55, -6.1, -6.35, -6.6, -6.2, -6.0, -6.4, -6.2, -6.45,
  -6.05, -6.3, -6.3, -6.5, -6.0, -6.35, -6.1, -6.45, -6.7, -6.2, -6.1, -6.45, -6.0, -6.35, -6.15, -6.5,
  -6.3, -6.1, -5.95, -6.4, -6.15, -6.35, -6.05, -6.5, -6.55, -6.2, -6.1, -6.4, -6.0, -6.35, -6.2, -6.5,
  -6.05, -6.45, -6.7, -6.2, -6.1, -6.5, -9, -6.3, -6.15, -6.55, -9, -6.4, -5.25, -9, -9];
const orange14 = [
  -9, -9, -9, -9, -9, -9, -9, -9,
  -9, -9, -9, -9, -9, -9, -9, -9,
  -6.7, -6.25, -6.75, -6.4, -6.2, -6.85, -9, -9,
  -6.8, -6.55, -6.35, -6.9, -9, -9, -9, -9,
  -9, -6.8, -6.4, -6.85, -9, -6.75, -6.4, -6.85,
  -6.6, -6.25, -6.9, -9, -9, -9, -9, -9,
  -9, -9, -9, -9, -9, -9, -9, -9];
const green14 = [
  -3.0, -4.1, -5.0, -5.55, -5.82, -6.08, -6.24, -6.34,
  -6.41, -6.45, -6.48, -6.5, -6.51, -6.51, -6.51, -6.52,
  -6.52, -6.52, -6.52, -6.52, -6.52, -6.52, -6.52, -6.52,
  -6.52, -6.52, -6.52, -6.52, -6.52, -6.52, -6.52, -6.52,
  -6.52, -6.52, -6.52, -6.52, -6.52, -6.52, -6.52, -6.52,
  -6.52, -6.52, -6.52, -6.52, -6.53, -6.53, -6.53, -6.53,
  -6.53, -6.53, -6.53, -6.53, -6.53, -6.53, -6.53, -6.9];
const red14 = [
  -3.0, -4.1, -5.0, -5.55, -5.8, -6.05, -6.2, -6.3,
  -6.36, -6.4, -6.43, -6.45, -6.47, -6.48, -6.45, -6.38,
  -6.3, -6.15, -6.3, -6.2, -6.1, -6.35, -6.35, -6.3,
  -6.3, -6.25, -6.2, -6.38, -6.42, -6.42, -6.4, -6.38,
  -6.35, -6.3, -6.25, -6.35, -6.38, -6.35, -6.22, -6.35,
  -6.3, -6.1, -6.35, -6.42, -6.47, -6.49, -6.5, -6.5,
  -6.51, -6.51, -6.51, -6.48, -6.45, -6.38, -6.5, -6.9];

// ---------- panel 15 ----------
const blue15 = [
  -3.2, -3.75, -4.25, -4.65, -5.0, -5.35, -5.6, -5.75, -5.85, -6.3, -6.1, -6.45, -6.75, -6.3, -6.2, -6.55,
  -6.6, -6.35, -6.3, -6.65, -6.55, -6.3, -6.35, -6.6, -6.65, -6.35, -6.4, -6.7, -6.6, -6.4, -6.3, -6.55,
  -6.45, -6.3, -6.2, -6.55, -6.3, -6.45, -6.1, -6.5, -6.3, -6.6, -6.2, -6.4, -6.05, -6.5, -6.35, -6.6,
  -6.2, -6.5, -6.3, -6.45, -6.15, -6.55, -6.1, -6.4, -6.3, -6.6, -6.2, -6.45, -6.35, -6.6, -6.15, -6.5,
  -6.3, -6.55, -6.2, -6.45, -6.4, -6.6, -6.25, -6.5, -6.1, -6.45, -6.3, -6.55, -6.2, -6.5, -6.4, -6.6,
  -6.2, -6.5, -6.3, -6.55, -6.1, -6.4, -6.05, -6.45, -6.3, -6.6, -6.2, -6.5, -6.35, -6.6, -6.15, -6.5,
  -6.3, -6.7, -6.6, -6.4, -6.2, -6.55, -6.35, -6.65, -6.15, -6.5, -6.4, -6.7, -6.05, -6.6, -9];
const orange15 = [
  -9, -9, -9, -9, -9, -9, -9, -9,
  -9, -9, -9, -9, -9, -9, -9, -9,
  -9, -9, -9, -6.75, -7.1, -6.9, -6.6, -7.2,
  -9, -9, -7.0, -6.85, -9, -9, -9, -9,
  -9, -9, -9, -9, -9, -9, -9, -9,
  -9, -9, -6.95, -6.7, -7.2, -9, -9, -9,
  -9, -9, -9, -9, -9, -9, -9, -9];
const green15 = [
  -3.2, -4.3, -5.1, -5.7, -6.02, -6.22, -6.34, -6.42,
  -6.47, -6.49, -6.5, -6.51, -6.51, -6.52, -6.52, -6.52,
  -6.52, -6.52, -6.52, -6.52, -6.52, -6.52, -6.52, -6.52,
  -6.52, -6.52, -6.52, -6.52, -6.52, -6.52, -6.52, -6.52,
  -6.52, -6.52, -6.52, -6.52, -6.52, -6.52, -6.52, -6.52,
  -6.53, -6.53, -6.53, -6.53, -6.53, -6.53, -6.53, -6.53,
  -6.53, -6.53, -6.53, -6.53, -6.53, -6.53, -6.53, -6.53];
const red15 = [
  -3.2, -4.3, -5.1, -5.7, -6.0, -6.18, -6.3, -6.37,
  -6.42, -6.45, -6.47, -6.48, -6.49, -6.5, -6.5, -6.5,
  -6.48, -6.45, -6.35, -6.3, -6.42, -6.38, -6.25, -6.38,
  -6.45, -6.42, -6.38, -6.33, -6.45, -6.43, -6.4, -6.4,
  -6.45, -6.47, -6.48, -6.45, -6.38, -6.4, -6.46, -6.48,
  -6.48, -6.45, -6.35, -6.27, -6.45, -6.47, -6.42, -6.38,
  -6.48, -6.5, -6.52, -6.52, -6.52, -6.52, -6.52, -6.52];

// ---------- panel 16 ----------
const blue16 = [
  -3.3, -4.0, -4.65, -5.15, -5.55, -5.75, -5.9, -6.1, -6.3, -6.5, -6.8, -6.4, -6.3, -6.6, -6.75, -6.45,
  -6.4, -6.7, -6.6, -6.45, -6.35, -6.65, -6.7, -6.45, -6.45, -6.7, -6.6, -6.4, -6.4, -6.7, -6.55, -6.4,
  -6.35, -6.6, -6.5, -6.35, -6.3, -6.55, -6.45, -6.6, -6.35, -6.55, -6.25, -6.5, -6.4, -6.6, -6.2, -6.5,
  -6.3, -6.55, -6.35, -6.6, -6.2, -6.45, -6.3, -6.55, -6.4, -6.6, -6.25, -6.5, -6.35, -6.6, -6.3, -6.55,
  -6.4, -6.6, -6.25, -6.5, -6.35, -6.6, -6.3, -6.55, -6.45, -6.65, -6.3, -6.5, -6.4, -6.6, -6.25, -6.55,
  -6.35, -6.6, -6.3, -6.55, -6.45, -6.65, -6.3, -6.5, -6.4, -6.6, -6.5, -6.7, -6.3, -6.6, -6.55, -6.35,
  -6.2, -6.55, -6.4, -6.65, -6.6, -6.35, -6.3, -6.55, -6.15, -6.5, -6.8, -6.4, -6.1, -6.7, -9];
const orange16 = [
  -9, -9, -9, -9, -9, -9, -9, -9,
  -9, -9, -9, -9, -9, -9, -9, -9,
  -9, -9, -9, -9, -9, -9, -9, -7.0,
  -6.85, -7.1, -7.05, -6.8, -7.1, -9, -9, -9,
  -9, -9, -9, -9, -9, -9, -9, -9,
  -9, -9, -9, -9, -9, -9, -9, -9,
  -9, -9, -9, -9, -7.1, -6.8, -6.95, -7.2];
const green16 = [
  -3.35, -4.7, -5.65, -6.05, -6.24, -6.37, -6.44, -6.48,
  -6.5, -6.51, -6.51, -6.52, -6.52, -6.52, -6.52, -6.52,
  -6.52, -6.52, -6.52, -6.52, -6.52, -6.52, -6.52, -6.52,
  -6.52, -6.52, -6.52, -6.52, -6.52, -6.52, -6.52, -6.52,
  -6.52, -6.52, -6.52, -6.52, -6.52, -6.52, -6.52, -6.52,
  -6.52, -6.52, -6.52, -6.52, -6.52, -6.52, -6.52, -6.52,
  -6.52, -6.52, -6.52, -6.52, -6.52, -6.52, -6.52, -6.52];
const red16 = [
  -3.35, -4.7, -5.65, -6.05, -6.22, -6.34, -6.42, -6.46,
  -6.48, -6.5, -6.5, -6.5, -6.5, -6.5, -6.5, -6.5,
  -6.5, -6.5, -6.5, -6.5, -6.5, -6.5, -6.45, -6.42,
  -6.37, -6.47, -6.45, -6.33, -6.47, -6.5, -6.5, -6.5,
  -6.43, -6.48, -6.5, -6.5, -6.5, -6.44, -6.5, -6.5,
  -6.5, -6.5, -6.5, -6.5, -6.5, -6.5, -6.49, -6.45,
  -6.42, -6.5, -6.5, -6.5, -6.47, -6.32, -6.45, -6.48];

const panels = [
  { blue: blue1, orange: orange1, green: green1, red: red1 },
  { blue: blue2, orange: orange2, green: green2, red: red2 },
  { blue: blue3, orange: orange3, green: green3, red: red3 },
  { blue: blue4, orange: orange4, green: green4, red: red4 },
  { blue: blue5, orange: orange5, green: green5, red: red5 },
  { blue: blue6, orange: orange6, green: green6, red: red6 },
  { blue: blue7, orange: orange7, green: green7, red: red7 },
  { blue: blue8, orange: orange8, green: green8, red: red8 },
  { blue: blue9, orange: orange9, green: green9, red: red9 },
  { blue: blue10, orange: orange10, green: green10, red: red10 },
  { blue: blue11, orange: orange11, green: green11, red: red11 },
  { blue: blue12, orange: orange12, green: green12, red: red12 },
  { blue: blue13, orange: orange13, green: green13, red: red13 },
  { blue: blue14, orange: orange14, green: green14, red: red14 },
  { blue: blue15, orange: orange15, green: green15, red: red15 },
  { blue: blue16, orange: orange16, green: green16, red: red16 },
];

// layout
const W = 280.5;
const H = 273.5;
const LEFT0 = 135;
const TOP0 = 2;
const YAXW = 127;
const XAXH = 50;
const PAD = 22;
const X_DOMAIN: [number, number] = [-0.66, 14.42];
const Y_DOMAIN: [number, number] = [1e-7, 1e-2];
const LW = 2.7;
const DASH = '10 4.4';

const modelRows = (p: any) =>
  radius.map((r, i) => ({
    r,
    orange: Math.pow(10, p.orange[i]),
    green: Math.pow(10, p.green[i]),
    red: Math.pow(10, p.red[i]),
  }));

const dataRows = (p: any) =>
  radiusFine.map((r, i) => ({
    r,
    blue: Math.pow(10, p.blue[i]),
  }));

const YTick = (props: any) => {
  const { x, y, payload } = props;
  const e = Math.round(Math.log10(payload.value));
  return (
    <text x={x - 8.5} y={y + 10.5} textAnchor="end" fontFamily={FONT} fontSize={30} fill="#000">
      10
      <tspan dy={-15} fontSize={21}>{'\u2212' + Math.abs(e)}</tspan>
    </text>
  );
};

const XTick = (props: any) => {
  const { x, y, payload } = props;
  return (
    <text x={x} y={y + 27.7} textAnchor="middle" fontFamily={FONT} fontSize={30} fill="#000">
      {payload.value}
    </text>
  );
};

function Panel({ idx }: { idx: number }) {
  const row = Math.floor(idx / 4);
  const col = idx % 4;
  const left = LEFT0 + col * W;
  const top = TOP0 + row * H;
  const yW = col === 0 ? YAXW : 0;
  const xH = row === 3 ? XAXH : 0;
  const padT = col === 0 ? PAD : 0;
  const padB = col === 0 && row !== 3 ? PAD : 0;
  const model = modelRows(panels[idx]);
  const obs = dataRows(panels[idx]);
  return (
    <div style={{ position: 'absolute', left: left - yW, top: top - padT }}>
      <LineChart
        width={W + yW}
        height={H + xH + padT + padB}
        data={model}
        margin={{ top: padT, right: 0, bottom: padB, left: 0 }}
      >
        <XAxis
          dataKey="r"
          type="number"
          domain={X_DOMAIN}
          allowDataOverflow
          ticks={xTicks}
          interval={0}
          hide={row !== 3}
          height={XAXH}
          axisLine={false}
          tickLine={{ stroke: '#000', strokeWidth: 1 }}
          tickSize={6}
          tickMargin={2}
          tick={(p: any) => <XTick {...p} />}
        />
        <YAxis
          type="number"
          scale="log"
          domain={Y_DOMAIN}
          allowDataOverflow
          ticks={yTicks}
          interval={0}
          hide={col !== 0}
          width={YAXW}
          axisLine={false}
          tickLine={{ stroke: '#000', strokeWidth: 1 }}
          tickSize={6}
          tickMargin={2}
          tick={(p: any) => <YTick {...p} />}
        />
        <Line data={obs} dataKey="blue" type="linear" stroke="#1f77b4" strokeWidth={LW} dot={false} activeDot={false} isAnimationActive={false} />
        <Line dataKey="orange" type="linear" stroke="#ff7f0e" strokeWidth={LW} strokeDasharray={DASH} dot={false} activeDot={false} isAnimationActive={false} />
        <Line dataKey="green" type="linear" stroke="#2ca02c" strokeWidth={LW} strokeDasharray={DASH} dot={false} activeDot={false} isAnimationActive={false} />
        <Line dataKey="red" type="linear" stroke="#d62728" strokeWidth={LW} dot={false} activeDot={false} isAnimationActive={false} />
      </LineChart>
    </div>
  );
}

export default function App() {
  const idxs = panels.map((_, i) => i);
  return (
    <div style={{ position: 'absolute', left: 0, top: 0, width: 1265, height: 1185, background: '#fff', fontFamily: FONT, overflow: 'hidden' }}>
      {idxs.map((i) => (
        <Panel key={i} idx={i} />
      ))}
      <svg width={1265} height={1185} style={{ position: 'absolute', left: 0, top: 0, pointerEvents: 'none' }}>
        {idxs.map((i) => {
          const row = Math.floor(i / 4);
          const col = i % 4;
          const left = LEFT0 + col * W;
          const top = TOP0 + row * H;
          return (
            <g key={i}>
              <rect x={left} y={top} width={W} height={H} fill="none" stroke="#000" strokeWidth={1.1} />
              <text x={left + 0.9 * W} y={top + 42.5} textAnchor="end" fontFamily={FONT} fontSize={20} fill="#000">
                T<tspan fontSize={14} dy={3.5}>mid</tspan>
                <tspan dy={-3.5}>{'=' + tMid[i] + ' [days]'}</tspan>
              </text>
              <text x={left + 0.9 * W} y={top + 67.5} textAnchor="end" fontFamily={FONT} fontSize={20} fill="#000">
                {'exp=' + expKs[i] + ' [ksec]'}
              </text>
            </g>
          );
        })}
        <text x={679} y={1174} textAnchor="middle" fontFamily={FONT} fontSize={30} fill="#000">
          radius [arcminutes]
        </text>
        <text transform="translate(40, 552) rotate(-90)" textAnchor="middle" fontFamily={FONT} fontSize={30} fill="#000">
          Intensity [counts pixel
          <tspan dy={-12} fontSize={21}>{'\u22121'}</tspan>
          <tspan dy={12}>{' second'}</tspan>
          <tspan dy={-12} fontSize={21}>{'\u22121'}</tspan>
          <tspan dy={12}>]</tspan>
        </text>
      </svg>
    </div>
  );
}
